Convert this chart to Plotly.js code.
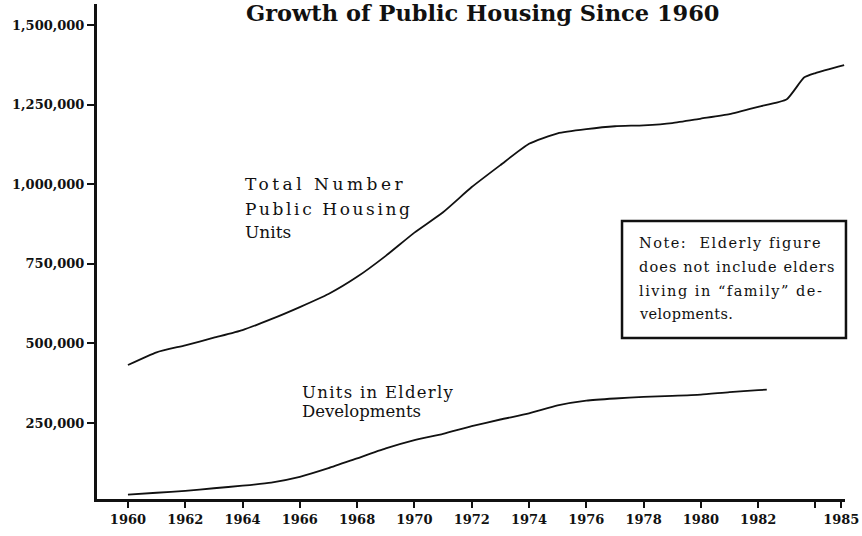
<!DOCTYPE html>
<html>
<head>
<meta charset="utf-8">
<script src="https://cdn.plot.ly/plotly-3.0.1.min.js"></script>
<style>
  html, body { margin: 0; padding: 0; background: #fff; }
  #chart { width: 862px; height: 536px; }
</style>
</head>
<body>
<div id="chart"></div>
<script>
// values
var years = [1960, 1961, 1962, 1963, 1964, 1965, 1966, 1967, 1968, 1969, 1970, 1971, 1972,
             1973, 1974, 1975, 1976, 1977, 1978, 1979, 1980, 1981, 1982, 1983, 1983.6, 1984, 1985];
var totalUnits = [432000, 472000, 494000, 518000, 542000, 576000, 614000, 655000, 709000, 775000,
                  848000, 912000, 991000, 1060000, 1127000, 1160000, 1173000, 1182000, 1185000,
                  1192000, 1206000, 1220000, 1243000, 1267000, 1335000, 1349000, 1374000];

var elderlyYears = [1960, 1961, 1962, 1963, 1964, 1965, 1966, 1967, 1968, 1969, 1970, 1971,
                    1972, 1973, 1974, 1975, 1976, 1977, 1978, 1979, 1980, 1981, 1982, 1982.3];
var elderlyUnits = [25000, 31000, 37000, 45000, 53000, 63000, 81000, 108000, 139000, 170000,
                    196000, 216000, 240000, 261000, 280000, 305000, 320000, 327000, 332000,
                    335000, 339000, 347000, 353000, 355000];

// the printed "1985" label sits a little left of the axis end
var xTicks = [1960, 1962, 1964, 1966, 1968, 1970, 1972, 1974, 1976, 1978, 1980, 1982, 1984, 1984.9];
var xTickText = ['1960', '1962', '1964', '1966', '1968', '1970', '1972', '1974', '1976', '1978',
                 '1980', '1982', '', '1985'];
var yTicks = [250000, 500000, 750000, 1000000, 1250000, 1500000];

var serif = 'DejaVu Serif, serif';

var total = {
  x: years,
  y: totalUnits,
  mode: 'lines',
  line: { color: '#111', width: 1.8, shape: 'spline', smoothing: 0.5 },
  hoverinfo: 'x+y'
};

var elderly = {
  x: elderlyYears,
  y: elderlyUnits,
  mode: 'lines',
  line: { color: '#111', width: 1.8, shape: 'spline', smoothing: 0.5 },
  hoverinfo: 'x+y'
};

function label(txt, x, y, size, ref) {
  return {
    text: txt, x: x, y: y,
    xref: ref || 'x', yref: ref || 'y',
    xanchor: 'left', yanchor: 'middle', align: 'left',
    showarrow: false,
    font: { family: serif, size: size, color: '#111' }
  };
}

var layout = {
  width: 862,
  height: 536,
  margin: { l: 97, r: 17, t: 4, b: 37 },
  paper_bgcolor: '#fff',
  plot_bgcolor: '#fff',
  showlegend: false,
  title: {
    text: 'Growth of Public Housing Since 1960',
    font: { family: serif, size: 22.5, color: '#111', weight: 'bold' },
    xref: 'container', yref: 'container',
    x: 0.56, y: 1 - 13 / 536, xanchor: 'center', yanchor: 'middle'
  },
  xaxis: {
    range: [1958.92, 1985.03],
    tickmode: 'array',
    tickvals: xTicks,
    ticktext: xTickText,
    ticklabeloverflow: 'allow',
    ticks: 'outside', ticklen: 6, tickwidth: 2, tickcolor: '#111',
    showline: true, linewidth: 3, linecolor: '#111',
    showgrid: false, zeroline: false,
    tickfont: { family: serif, size: 13, color: '#111', weight: 'bold' }
  },
  yaxis: {
    range: [11300, 1566000],
    tickmode: 'array',
    tickvals: yTicks,
    tickformat: ',d',
    ticks: 'outside', ticklen: 7, tickwidth: 2, tickcolor: '#111',
    showline: true, linewidth: 3, linecolor: '#111',
    showgrid: false, zeroline: false,
    tickfont: { family: serif, size: 13, color: '#111', weight: 'bold' }
  },
  shapes: [{
    type: 'rect', xref: 'paper', yref: 'paper',
    x0: 0.7019, x1: 1.0013, y0: 0.3253, y1: 0.5616,
    line: { color: '#111', width: 2.5 }, fillcolor: 'rgba(0,0,0,0)'
  }],
  annotations: [
    label('<span style="letter-spacing:3.5px">Total Number</span>', 1964.0, 1000000, 17),
    label('<span style="letter-spacing:2.6px">Public Housing</span>', 1964.0, 922000, 17),
    label('Units', 1964.0, 849000, 17),
    label('<span style="letter-spacing:1.3px">Units in Elderly</span>', 1966.0, 345000, 16.5),
    label('Developments', 1966.0, 285000, 16.5),
    label('<span style="letter-spacing:1.5px">Note:  Elderly figure</span>', 0.7219, (499 - 243) / 495, 14.5, 'paper'),
    label('<span style="letter-spacing:1.1px">does not include elders</span>', 0.7219, (499 - 267) / 495, 14.5, 'paper'),
    label('<span style="letter-spacing:1.5px">living in \u201cfamily\u201d de-</span>', 0.7219, (499 - 291) / 495, 14.5, 'paper'),
    label('<span style="letter-spacing:0.4px">velopments.</span>', 0.7219, (499 - 314) / 495, 14.5, 'paper')
  ]
};

Plotly.newPlot('chart', [total, elderly], layout, { displayModeBar: false, staticPlot: true });
</script>
</body>
</html>
